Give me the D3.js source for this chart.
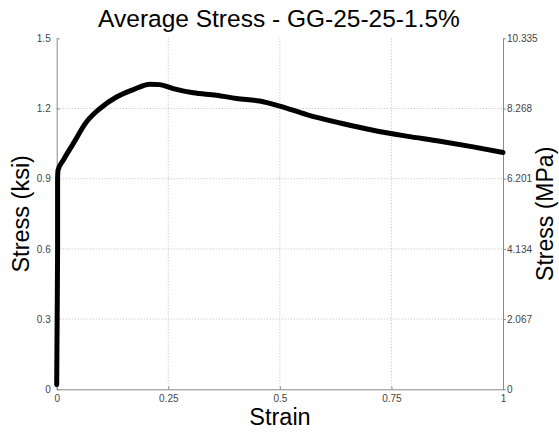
<!DOCTYPE html>
<html><head><meta charset="utf-8">
<script src="https://cdn.jsdelivr.net/npm/d3@7"></script>
<style>body{margin:0;background:#fff}svg{display:block}</style>
</head><body>
<script>
const strain = [0, 0.001, 0.002, 0.002, 0.003, 0.015, 0.037, 0.067, 0.097, 0.134, 0.172, 0.209, 0.231, 0.261, 0.306, 0.358, 0.403, 0.455, 0.50, 0.56, 0.635, 0.709, 0.784, 0.859, 0.933, 1.0];
const stressKsi = [0.02, 0.3, 0.6, 0.9, 0.937, 0.98, 1.05, 1.143, 1.20, 1.249, 1.281, 1.304, 1.302, 1.285, 1.267, 1.257, 1.243, 1.232, 1.21, 1.174, 1.138, 1.107, 1.082, 1.060, 1.036, 1.012];
const xTicks = [0, 0.25, 0.5, 0.75, 1];
const yTicks = [0, 0.3, 0.6, 0.9, 1.2, 1.5];
const yTicksMPa = ["0", "2.067", "4.134", "6.201", "8.268", "10.335"];
const title = "Average Stress - GG-25-25-1.5%";

const W = 559, H = 434;
const L = 56.7, R = 503, T = 38.3, B = 389.3;
const svg = d3.select("body").append("svg").attr("width", W).attr("height", H)
  .style("font-family", "'Liberation Sans', Arial, sans-serif");
const x = d3.scaleLinear().domain([0, 1]).range([L, R]);
const y = d3.scaleLinear().domain([0, 1.5]).range([B, T]);
const y2 = d3.scaleLinear().domain([0, 10.335]).range([B, T]);

// grid
svg.append("g").selectAll("line").data(xTicks.slice(1, -1)).join("line")
  .attr("x1", d => x(d)).attr("x2", d => x(d)).attr("y1", T).attr("y2", B)
  .attr("stroke", "#bbb").attr("stroke-width", 1).attr("stroke-dasharray", "1,2");
svg.append("g").selectAll("line").data(yTicks.slice(1, -1)).join("line")
  .attr("x1", L).attr("x2", R).attr("y1", d => y(d)).attr("y2", d => y(d))
  .attr("stroke", "#bbb").attr("stroke-width", 1).attr("stroke-dasharray", "1,2");

const axStyle = g => {
  g.selectAll("path").attr("stroke", "#888");
  g.selectAll("line").attr("stroke", "#888");
  g.selectAll("text").attr("fill", "#444").style("font-size", "10px").style("font-family", "'Liberation Sans', Arial, sans-serif");
};
svg.append("g").attr("transform", `translate(0,${B})`)
  .call(d3.axisBottom(x).tickValues(xTicks).tickSize(-3).tickSizeOuter(0).tickPadding(6).tickFormat(d => d === 0 ? "0" : String(d)))
  .call(axStyle);
svg.append("g").attr("transform", `translate(${L},0)`)
  .call(d3.axisLeft(y).tickValues(yTicks).tickSize(-3).tickSizeOuter(0).tickPadding(6).tickFormat(d => String(d)))
  .call(axStyle);
svg.append("g").attr("transform", `translate(${R},0)`)
  .call(d3.axisRight(y2).tickValues(yTicksMPa.map(Number)).tickSize(3).tickSizeOuter(0).tickPadding(1).tickFormat((d, i) => yTicksMPa[i]))
  .call(axStyle);

// curve
const pts = strain.map((s, i) => [s, stressKsi[i]]);
svg.append("path").datum(pts)
  .attr("d", d3.line().x(d => x(d[0])).y(d => y(d[1])).curve(d3.curveMonotoneX))
  .attr("fill", "none").attr("stroke", "#000").attr("stroke-width", 5)
  .attr("stroke-linejoin", "round").attr("stroke-linecap", "round");

// labels
svg.append("text").attr("x", 279).attr("y", 27).attr("text-anchor", "middle")
  .style("font-size", "24.5px").attr("fill", "#000").text(title);
svg.append("text").attr("x", 280).attr("y", 425).attr("text-anchor", "middle")
  .style("font-size", "23.5px").attr("fill", "#000").text("Strain");
svg.append("text").attr("transform", `translate(29,${(T + B) / 2}) rotate(-90)`).attr("text-anchor", "middle")
  .style("font-size", "23.5px").attr("fill", "#000").text("Stress (ksi)");
svg.append("text").attr("transform", `translate(553,${(T + B) / 2}) rotate(-90)`).attr("text-anchor", "middle")
  .style("font-size", "23px").attr("fill", "#000").text("Stress (MPa)");
</script>
</body></html>
